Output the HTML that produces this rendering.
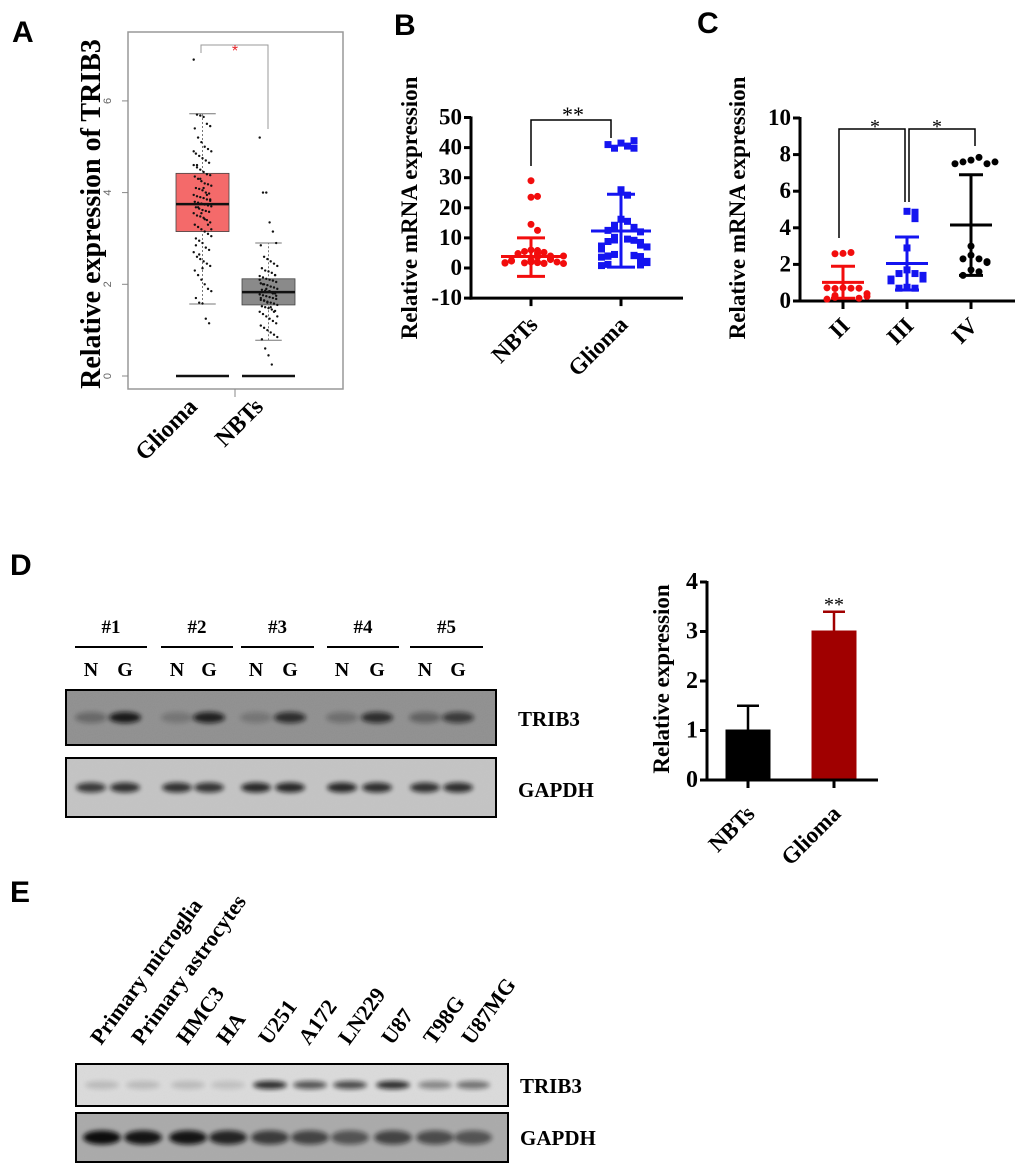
<!DOCTYPE html>
<html><head><meta charset="utf-8"><style>
html,body{margin:0;padding:0;background:#fff}
svg{display:block}
.lt{font-family:"Liberation Sans",sans-serif;font-weight:bold;font-size:30px}
.sf{font-family:"Liberation Serif",serif;font-weight:bold}
</style></head><body>
<svg id="fig" width="1020" height="1167" viewBox="0 0 1020 1167" xmlns="http://www.w3.org/2000/svg">
<defs>
<filter id="blur2" x="-50%" y="-50%" width="200%" height="200%"><feGaussianBlur stdDeviation="2.5"/></filter>
<filter id="noise" x="0" y="0" width="100%" height="100%"><feTurbulence type="fractalNoise" baseFrequency="0.9" numOctaves="2" seed="3"/><feColorMatrix type="matrix" values="0 0 0 0 0.5 0 0 0 0 0.5 0 0 0 0 0.5 0 0 0 0.25 0"/></filter>
</defs>
<text class="lt" x="12" y="42">A</text>
<text class="lt" x="394" y="35">B</text>
<text class="lt" x="697" y="33">C</text>
<text class="lt" x="10" y="575">D</text>
<text class="lt" x="10" y="902">E</text>
<g id="pa"></g>
<g id="pb"></g>
<g id="pc"></g>
<g id="pd"></g>
<g id="pdb"></g>
<g id="pe"></g>
</svg>
<script>
// ---------- Panel A data ----------
const aCats = ["Glioma", "NBTs"];
const aQ1 = [3.15, 1.55];
const aMed = [3.75, 1.83];
const aQ3 = [4.42, 2.12];
const aLo = [1.57, 0.78];
const aHi = [5.72, 2.9];
const aTicks = [0, 2, 4, 6];
const aGliomaPts = [6.9,5.7,5.68,5.65,5.5,5.45,5.4,5.2,5.1,5.0,4.95,4.9,4.85,4.8,4.75,4.7,4.65,4.6,4.55,4.5,4.45,4.4,4.38,4.35,4.3,4.25,4.2,4.18,4.15,4.1,4.08,4.05,4.0,3.98,3.95,3.92,3.9,3.88,3.85,3.82,3.8,3.78,3.76,3.74,3.72,3.7,3.68,3.65,3.62,3.6,3.58,3.55,3.5,3.48,3.45,3.4,3.35,3.3,3.25,3.2,3.15,3.1,3.05,3.0,2.95,2.9,2.8,2.75,2.7,2.6,2.55,2.5,2.45,2.4,2.3,2.2,2.1,2.0,1.9,1.85,1.7,1.6,1.58,1.25,1.15,4.9,4.6,4.3,4.1,3.95,3.85,3.75,3.68,3.55,3.42,3.3,3.2,2.85,2.65,2.35];
const aNbtPts = [5.2,4.0,4.0,3.35,3.15,2.9,2.85,2.6,2.55,2.5,2.45,2.4,2.35,2.3,2.28,2.25,2.2,2.18,2.15,2.12,2.1,2.08,2.05,2.02,2.0,1.98,1.95,1.93,1.9,1.88,1.86,1.84,1.82,1.8,1.78,1.76,1.74,1.72,1.7,1.68,1.66,1.64,1.62,1.6,1.58,1.55,1.52,1.5,1.48,1.45,1.42,1.4,1.35,1.3,1.25,1.2,1.15,1.1,1.05,1.0,0.95,0.9,0.85,0.8,0.6,0.45,0.25,2.2,2.1,2.0,1.9,1.85,1.8,1.75,1.7,1.65,1.6,1.5,1.4,1.3];
// ---------- Panel B data ----------
const bCats = ["NBTs", "Glioma"];
const bTicks = [-10, 0, 10, 20, 30, 40, 50];
const bMean = [3.8, 12.3];
const bSdLo = [-2.8, 0.3];
const bSdHi = [10, 24.5];
const bNbt = [29,23.5,23.8,14.5,12.5,6,5.8,5.5,5.2,4.8,4,3.5,3.2,3,2.8,2.5,2.3,2,1.8,1.6,1.5,1.2,1,0.8,0.6,0.5,0.4,0.3,0.2,0.1,2.6,2.1,1.4,0.9];
const bGlioma = [41.5,40.5,39.8,39.8,41,42.3,26,24.2,16.2,15.5,14.2,13.8,13.5,13,12.5,12,10.2,9.6,9.3,9.2,8.8,8.5,7.6,7.3,7.2,7,6.5,6.3,4.5,4.2,4.1,4,3.9,3.8,3.6,2.2,2,1.8,1.5,1.2,1,0.8];
// ---------- Panel C data ----------
const cCats = ["II", "III", "IV"];
const cTicks = [0, 2, 4, 6, 8, 10];
const cMean = [1.02, 2.05, 4.15];
const cSdLo = [0.15, 0.6, 1.4];
const cSdHi = [1.9, 3.5, 6.9];
const cII = [2.6,2.65,2.58,0.72,0.7,0.68,0.7,0.72,0.4,0.3,0.2,0.15,0.1,0.25];
const cIII = [4.9,4.85,4.5,2.9,1.7,1.5,1.5,1.4,1.2,1.2,0.75,0.7,0.7,1.1];
const cIV = [7.7,7.85,7.6,7.5,7.5,7.6,3.0,2.5,2.3,2.3,2.15,2.1,1.7,1.6,1.4];
// ---------- Panel D data ----------
const dGroups = ["#1","#2","#3","#4","#5"];
const dLanes = ["N","G","N","G","N","G","N","G","N","G"];
const dTrib3 = [0.3,0.9,0.2,0.85,0.2,0.75,0.25,0.75,0.35,0.65];
const dGapdh = [0.75,0.8,0.8,0.78,0.85,0.85,0.85,0.82,0.8,0.82];
const dBarCats = ["NBTs","Glioma"];
const dBarVals = [1.02, 3.02];
const dBarErr = [0.48, 0.38];
const dTicks = [0,1,2,3,4];
// ---------- Panel E data ----------
const eLanes = ["Primary microglia","Primary astrocytes","HMC3","HA","U251","A172","LN229","U87","T98G","U87MG"];
const eTrib3 = [0.15,0.15,0.15,0.12,0.85,0.65,0.7,0.85,0.4,0.5];
const eGapdh = [1.0,0.95,0.95,0.85,0.7,0.65,0.55,0.65,0.6,0.55];

const NS = "http://www.w3.org/2000/svg";
function mk(parent, tag, attrs, txt) {
  const e = document.createElementNS(NS, tag);
  for (const k in attrs) e.setAttribute(k, attrs[k]);
  if (txt !== undefined) e.textContent = txt;
  parent.appendChild(e);
  return e;
}

// ================= Panel A =================
(function(){
  const g = document.getElementById('pa');
  const yA = v => 376 - v * 45.85;
  const xCenter = [202.5, 268.5];
  const halfW = 26.5;
  const frame = mk(g,'rect',{x:128,y:32,width:215,height:357,fill:'none',stroke:'#999','stroke-width':1.5});
  
  
  aTicks.forEach(t=>{
    const l = mk(g,'line',{x1:122,x2:128,y1:yA(t),y2:yA(t),stroke:'#888','stroke-width':1});
    
    
    const tx = mk(g,'text',{x:111,y:yA(t),'font-family':'Liberation Sans, sans-serif','font-size':11,fill:'#666','text-anchor':'middle',transform:`rotate(-90 111 ${yA(t)})`},String(t));
    
    
  });
  const yl = mk(g,'text',{x:0,y:0,class:'sf','font-size':28,'text-anchor':'middle',transform:'translate(100 214) rotate(-90)'},'Relative expression of TRIB3');
  
  
  const fills = ['#f46a6a','#8a8a8a'];
  const pts = [aGliomaPts, aNbtPts];
  aCats.forEach((c,i)=>{
    const x = xCenter[i];
    const wl = mk(g,'line',{x1:x,x2:x,y1:yA(aLo[i]),y2:yA(aHi[i]),stroke:'#777','stroke-width':1,'stroke-dasharray':'2,2'});
    
    
    [aLo[i],aHi[i]].forEach(v=>{
      const cap = mk(g,'line',{x1:x-halfW/2,x2:x+halfW/2,y1:yA(v),y2:yA(v),stroke:'#777','stroke-width':1});
      
      
    });
    const box = mk(g,'rect',{x:x-halfW,y:yA(aQ3[i]),width:halfW*2,height:yA(aQ1[i])-yA(aQ3[i]),fill:fills[i],stroke:'#444','stroke-width':0.8});
    
    
    const md = mk(g,'line',{x1:x-halfW,x2:x+halfW,y1:yA(aMed[i]),y2:yA(aMed[i]),stroke:'#111','stroke-width':2.5});
    
    
    const zl = mk(g,'line',{x1:x-halfW,x2:x+halfW,y1:yA(0),y2:yA(0),stroke:'#111','stroke-width':2.5});
    
    
    pts[i].forEach((v,k)=>{
      const off = (((k*37)%17)-8)*1.1;
      const p = mk(g,'circle',{cx:x+off,cy:yA(v),r:1.2,fill:'#111'});
      
      
    });
    const lab = mk(g,'text',{x:0,y:0,class:'sf','font-size':24,'text-anchor':'end',transform:`translate(${x-4} 408) rotate(-45)`},c);
    
    
  });
  const xt = mk(g,'line',{x1:235,x2:235,y1:389,y2:397,stroke:'#888'});
  
  
  const br = mk(g,'path',{d:`M201 53 V45 H268 V129`,fill:'none',stroke:'#999','stroke-width':1});
  
  
  const st = mk(g,'text',{x:235,y:56,'font-family':'Liberation Sans, sans-serif','font-size':16,fill:'#e8262b','text-anchor':'middle'},'*');
  
  
})();

function scatterPanel(g, yS, xs, groups, colors, shapes, means, lo, hi, meanHalf, capHalf, size, spacing, maxHalf) {
  const maxCols = Math.floor(2*maxHalf/spacing)+1;
  groups.forEach((vals,i)=>{
    const x = xs[i];
    const placed = [];
    vals.forEach(v=>{
      let y = yS(v);
      let n = placed.filter(py=>Math.abs(py-y)<size).length;
      placed.push(y);
      const row = Math.floor(n/maxCols);
      n = n % maxCols;
      y -= row*size*0.6;
      const off = n===0?0:(n%2?1:-1)*Math.ceil(n/2)*spacing;
      let m;
      if (shapes[i]==='sq') m = mk(g,'rect',{x:x+off-size/2,y:y-size/2,width:size,height:size,fill:colors[i]});
      else m = mk(g,'circle',{cx:x+off,cy:y,r:size/2,fill:colors[i]});
      
      
    });
    const c = colors[i];
    const v1 = mk(g,'line',{x1:x,x2:x,y1:yS(lo[i]),y2:yS(hi[i]),stroke:c,'stroke-width':3});
    
    
    [lo[i],hi[i]].forEach(v=>{
      const cap = mk(g,'line',{x1:x-capHalf,x2:x+capHalf,y1:yS(v),y2:yS(v),stroke:c,'stroke-width':3});
      
      
    });
    const ml = mk(g,'line',{x1:x-meanHalf,x2:x+meanHalf,y1:yS(means[i]),y2:yS(means[i]),stroke:c,'stroke-width':3});
    
    
  });
}

function axes(g, axX, yS, ticks, xEnd, yBase, cats, xs, labTop, fs) {
  const ya = mk(g,'line',{x1:axX,x2:axX,y1:yS(ticks[ticks.length-1])-1,y2:yBase+1.5,stroke:'#000','stroke-width':3});
  
  
  const xa = mk(g,'line',{x1:axX-1.5,x2:xEnd,y1:yBase,y2:yBase,stroke:'#000','stroke-width':3});
  
  
  ticks.forEach(t=>{
    const l = mk(g,'line',{x1:axX-7,x2:axX,y1:yS(t),y2:yS(t),stroke:'#000','stroke-width':3});
    
    
    const tx = mk(g,'text',{x:axX-9,y:yS(t)+7,class:'sf','font-size':fs,'text-anchor':'end'},String(t));
    
    
  });
  cats.forEach((c,i)=>{
    const l = mk(g,'line',{x1:xs[i],x2:xs[i],y1:yBase,y2:yBase+8,stroke:'#000','stroke-width':3});
    
    
    const tx = mk(g,'text',{x:0,y:0,class:'sf','font-size':23,'text-anchor':'end',transform:`translate(${xs[i]+8} ${labTop}) rotate(-45)`},c);
    
    
  });
}

// ================= Panel B =================
(function(){
  const g = document.getElementById('pb');
  const yB = v => 268 - v * 3.01;
  const xs = [531, 621];
  axes(g, 471, yB, bTicks, 683, yB(-10), bCats, xs, 326, 23);
  scatterPanel(g, yB, xs, [bNbt,bGlioma], ['#f20d0d','#1414f0'], ['c','sq'], bMean, bSdLo, bSdHi, 30, 14, 7, 6.5, 32);
  const yl = mk(g,'text',{x:0,y:0,class:'sf','font-size':23,'text-anchor':'middle',transform:'translate(417 208) rotate(-90)'},'Relative mRNA expression');
  
  
  const br = mk(g,'path',{d:'M531 166 V120 H611 V138',fill:'none',stroke:'#000','stroke-width':1.5});
  
  
  const st = mk(g,'text',{x:573,y:122,'font-family':'Liberation Serif, serif','font-size':22,'text-anchor':'middle'},'**');
  
  
})();

// ================= Panel C =================
(function(){
  const g = document.getElementById('pc');
  const yC = v => 301 - v * 18.3;
  const xs = [843, 907, 971];
  axes(g, 800, yC, cTicks, 1015, yC(0), cCats, xs, 327, 23);
  scatterPanel(g, yC, xs, [cII,cIII,cIV], ['#f20d0d','#1414f0','#000'], ['c','sq','c'], cMean, cSdLo, cSdHi, 21, 12, 7, 8, 22);
  const yl = mk(g,'text',{x:0,y:0,class:'sf','font-size':23,'text-anchor':'middle',transform:'translate(745 208) rotate(-90)'},'Relative mRNA expression');
  
  
  const b1 = mk(g,'path',{d:'M839 238 V129 H905 V202',fill:'none',stroke:'#000','stroke-width':1.5});
  
  
  const b2 = mk(g,'path',{d:'M909 202 V129 H975 V146',fill:'none',stroke:'#000','stroke-width':1.5});
  
  
  const s1 = mk(g,'text',{x:875,y:133,'font-family':'Liberation Serif, serif','font-size':20,'text-anchor':'middle'},'*');
  
  
  const s2 = mk(g,'text',{x:937,y:133,'font-family':'Liberation Serif, serif','font-size':20,'text-anchor':'middle'},'*');
  
  
})();

function blot(g, x, y, w, h, bg, lanesX, vals, bandW, bandH, name) {
  const r = mk(g,'rect',{x:x,y:y,width:w,height:h,fill:bg});
  
  
  const nz = mk(g,'rect',{x:x,y:y,width:w,height:h,filter:'url(#noise)',opacity:0.6});
  
  
  vals.forEach((v,i)=>{
    const b = mk(g,'ellipse',{cx:lanesX[i],cy:y+h/2,rx:bandW/2,ry:bandH/2,fill:'#111',opacity:v,filter:'url(#blur2)'});
    
    
  });
  const fr = mk(g,'rect',{x:x,y:y,width:w,height:h,fill:'none',stroke:'#000','stroke-width':2});
  
  
}

// ================= Panel D blot =================
(function(){
  const g = document.getElementById('pd');
  const laneX = [91,125,177,209,256,290,342,377,425,458];
  const grpX = [[75,147],[161,233],[241,314],[327,399],[410,483]];
  dGroups.forEach((t,i)=>{
    const [a,b] = grpX[i];
    const tx = mk(g,'text',{x:(a+b)/2,y:633,class:'sf','font-size':19,'text-anchor':'middle'},t);
    
    
    const l = mk(g,'line',{x1:a,x2:b,y1:647,y2:647,stroke:'#000','stroke-width':2});
    
    
  });
  dLanes.forEach((t,i)=>{
    const tx = mk(g,'text',{x:laneX[i],y:676,class:'sf','font-size':20,'text-anchor':'middle'},t);
    
    
  });
  blot(g,66,690,430,55,'#8e8e8e',laneX,dTrib3,32,11,'trib3-blot');
  blot(g,66,758,430,59,'#c4c4c4',laneX,dGapdh,30,10,'gapdh-blot');
  const t1 = mk(g,'text',{x:518,y:726,class:'sf','font-size':21},'TRIB3');
  
  
  const t2 = mk(g,'text',{x:518,y:797,class:'sf','font-size':21},'GAPDH');
  
  
})();

// ================= Panel D bar chart =================
(function(){
  const g = document.getElementById('pdb');
  const yD = v => 780 - v * 49.5;
  const xs = [748, 834];
  const colors = ['#000','#a00000'];
  dBarCats.forEach((c,i)=>{
    const x = xs[i];
    const top = yD(dBarVals[i]+dBarErr[i]);
    const e = mk(g,'line',{x1:x,x2:x,y1:top,y2:yD(dBarVals[i]),stroke:colors[i],'stroke-width':2.5});
    
    
    const cap = mk(g,'line',{x1:x-11,x2:x+11,y1:top,y2:top,stroke:colors[i],'stroke-width':2.5});
    
    
    const r = mk(g,'rect',{x:x-22.5,y:yD(dBarVals[i]),width:45,height:yD(0)-yD(dBarVals[i]),fill:colors[i]});
    
    
  });
  axes(g, 707, yD, dTicks, 878, yD(0), dBarCats, xs, 815, 24);
  const yl = mk(g,'text',{x:0,y:0,class:'sf','font-size':23,'text-anchor':'middle',transform:'translate(669 679) rotate(-90)'},'Relative  expression');
  
  
  const st = mk(g,'text',{x:834,y:611,'font-family':'Liberation Serif, serif','font-size':20,'text-anchor':'middle'},'**');
  
  
})();

// ================= Panel E =================
(function(){
  const g = document.getElementById('pe');
  const laneX = [102,143,188,228,270,310,350,393,435,473];
  eLanes.forEach((t,i)=>{
    const tx = mk(g,'text',{x:0,y:0,class:'sf','font-size':22,transform:`translate(${laneX[i]-1} 1046) rotate(-54)`},t);
    
    
  });
  blot(g,76,1064,432,42,'#dcdcdc',laneX,eTrib3,34,8,'trib3-blot');
  blot(g,76,1113,432,49,'#a9a9a9',laneX,eGapdh,38,14,'gapdh-blot');
  const t1 = mk(g,'text',{x:520,y:1093,class:'sf','font-size':21},'TRIB3');
  
  
  const t2 = mk(g,'text',{x:520,y:1145,class:'sf','font-size':21},'GAPDH');
  
  
})();
</script>
</body></html>
